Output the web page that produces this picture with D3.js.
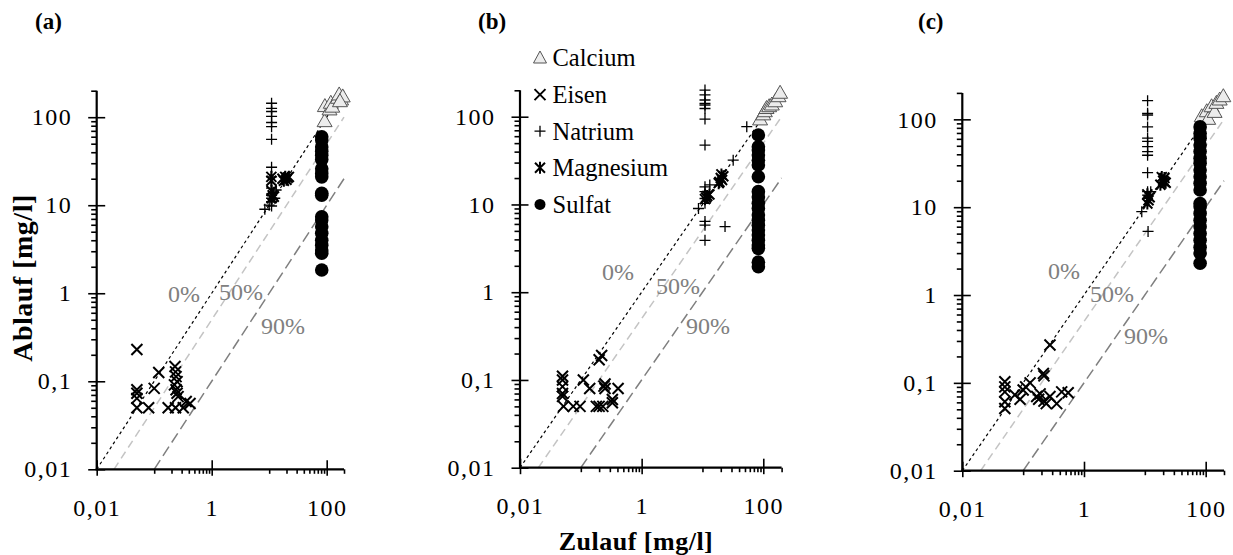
<!DOCTYPE html>
<html>
<head>
<meta charset="utf-8">
<script src="https://cdn.jsdelivr.net/npm/d3@7"></script>
<style>
  html, body { margin: 0; padding: 0; background: #fff; }
  svg { display: block; }
  text { font-family: "Liberation Serif", "Times New Roman", serif; }
</style>
</head>
<body>
<svg id="chart" width="1233" height="555"></svg>
<script>
// ---- Data: Zulauf (inflow) vs. Ablauf (outflow), mg/l -------------------
const panelLabels = ["(a)", "(b)", "(c)"];
const seriesNames = ["Calcium", "Eisen", "Natrium", "Magnesium", "Sulfat"];
const yTickValues = [0.01, 0.1, 1, 10, 100];
const xTickValues = [0.01, 1, 100];
const refLevels = [0, 50, 90];          // removal rate in percent
const refLabels = ["0%", "50%", "90%"];

// Panel (a)
const calciumA = [[92,89],[93,132],[112,121],[118,144],[125,130],[157,164],[165,179],[178,157],[190,170],[170,150]];
const eisenA = [[0.05,0.23],[0.05,0.08],[0.05,0.073],[0.05,0.064],[0.05,0.05],[0.08,0.05],[0.1,0.083],[0.12,0.126],
  [0.175,0.05],[0.23,0.147],[0.235,0.128],[0.24,0.113],[0.25,0.099],[0.225,0.091],[0.24,0.08],[0.25,0.073],
  [0.26,0.067],[0.235,0.05],[0.32,0.05],[0.36,0.059],[0.42,0.056]];
const natriumA = [[11,144],[11,126],[11,116],[11,102],[11,87],[11,78],[11,56],[11,27],[11,21],[11,15.6],[11,13],
  [11,12],[11,11],[11,9.8],[8.4,9],[13.2,14.9],[10,10],[12,14],[12.5,12]];
const magnesiumA = [[10.9,21],[10.9,19],[11,14.5],[11.5,13],[11,12],[12,12.5],[17,20],[19,21],[20,19.5],[21,20.5],[22,21],[18,19]];
const sulfatA = [[82,60],[82,55],[82,46],[82,41],[82,37],[82,33],[82,26],[82,23],[82,21],[82,13.7],[82,13],
  [82,7.4],[82,6.8],[82,5.7],[82,4.8],[82,4.0],[82,3.5],[82,3.1],[82,2.85],[82,1.84]];

// Panel (b)
const calciumB = [[88.5,92],[100,105],[106,114],[113,124],[125,130],[138,136],[157,148],[178,169],[189,185]];
const eisenB = [[0.05,0.11],[0.05,0.1],[0.05,0.084],[0.05,0.07],[0.05,0.065],[0.052,0.05],[0.075,0.05],[0.097,0.05],
  [0.11,0.1],[0.14,0.08],[0.22,0.19],[0.2,0.17],[0.18,0.05],[0.2,0.05],[0.23,0.05],[0.25,0.09],[0.25,0.08],
  [0.33,0.06],[0.33,0.055],[0.41,0.08],[0.24,0.085]];
const natriumB = [[11,201],[11,177],[11,155],[11,142],[11,136],[11,124],[11,94],[11,47.5],[13.2,16.7],[11,15.9],
  [11,14],[11,11.7],[11,10.3],[11,6.4],[11,5.8],[11,3.9],[23.5,5.6],[53.5,77],[32,32],[8.6,9],[12,12]];
const magnesiumB = [[11,11.5],[12,12.5],[11.5,12],[13,13],[18.5,17.5],[20,20],[21,19],[22,21],[19,18],[20.5,22]];
const sulfatB = [[83,61.8],[83,45.5],[83,41.7],[83,36.6],[83,32],[83,28.2],[83,20.7],[83,14],[83,12.2],[83,10.3],
  [83,9],[83,7.6],[83,6.6],[83,5.8],[83,5.1],[83,4.5],[83,3.9],[83,3.45],[83,3.16],[83,2.2],[83,1.95]];

// Panel (c)
const calciumC = [[86,107],[104,122],[110,100],[125,139],[140,120],[150,152],[170,166],[195,181]];
const eisenC = [[0.05,0.103],[0.05,0.09],[0.05,0.079],[0.05,0.061],[0.05,0.051],[0.073,0.073],[0.089,0.065],
  [0.1,0.083],[0.13,0.1],[0.11,0.09],[0.167,0.07],[0.215,0.128],[0.22,0.12],[0.276,0.27],[0.22,0.062],
  [0.24,0.058],[0.276,0.07],[0.356,0.058],[0.43,0.079],[0.55,0.077],[0.19,0.075],[0.18,0.065]];
const natriumC = [[11.1,163],[11.1,117],[11.1,112],[11.1,82],[11.1,61],[11.1,56],[11.1,49],[11.1,43],[11.1,39],
  [11.1,24.7],[11.1,15],[11.1,13.7],[11.1,12.6],[12.5,15],[8.9,8.9],[11.3,5.3]];
const magnesiumC = [[11,11],[11.5,12],[12,13],[11,14],[18,18],[20,20],[21,21.5],[22,19],[19,22],[21,19.5]];
const sulfatC = [[81,82],[81,69],[81,61],[81,51],[81,43],[81,36],[81,31.6],[81,26.5],[81,22.2],[81,18.7],[81,15.7],
  [81,11],[81,10.1],[81,8.5],[81,7.1],[81,6],[81,5],[81,4.2],[81,3.5],[81,3],[81,2.3]];

// ---- Layout ----------------------------------------------------------------
const domain = [0.01, 200];
const layouts = [
  { x: [96.7, 344.0],  y: [469.3, 90.7], label: [35, 29] },
  { x: [520.0, 781.6], y: [467.7, 90.3], label: [478, 29] },
  { x: [962.3, 1224.0], y: [470.7, 92.9], label: [918, 29] }
];
const panelData = [
  [calciumA, eisenA, natriumA, magnesiumA, sulfatA],
  [calciumB, eisenB, natriumB, magnesiumB, sulfatB],
  [calciumC, eisenC, natriumC, magnesiumC, sulfatC]
];
const refPos = [
  [[184, 302], [241, 300], [283, 334]],
  [[618, 280], [678, 294], [708, 334]],
  [[1064, 279], [1112, 302], [1146, 344]]
];
const refStyle = [
  { stroke: "#000000", width: 1.2, dash: "3,3" },
  { stroke: "#c4c4c4", width: 1.5, dash: "8,5" },
  { stroke: "#7f7f7f", width: 1.5, dash: "11,5" }
];

const svg = d3.select("#chart");
const fmt = d => String(d).replace(".", ",");
const serif = "'Liberation Serif', 'Times New Roman', serif";

// Marker painters
function drawMarker(g, kind, cx, cy) {
  if (kind === 0) { // Calcium: triangle
    g.append("path")
      .attr("d", `M${cx},${cy - 8} L${cx + 7.5},${cy + 5} L${cx - 7.5},${cy + 5} Z`)
      .attr("fill", "#ececec").attr("stroke", "#555").attr("stroke-width", 1);
  } else if (kind === 1) { // Eisen: x
    const h = 5.5;
    g.append("path")
      .attr("d", `M${cx - h},${cy - h} L${cx + h},${cy + h} M${cx - h},${cy + h} L${cx + h},${cy - h}`)
      .attr("stroke", "#000").attr("stroke-width", 2).attr("fill", "none");
  } else if (kind === 2) { // Natrium: +
    const h = 5.5;
    g.append("path")
      .attr("d", `M${cx - h},${cy} L${cx + h},${cy} M${cx},${cy - h} L${cx},${cy + h}`)
      .attr("stroke", "#000").attr("stroke-width", 1.3).attr("fill", "none");
  } else if (kind === 3) { // Magnesium: star (x with vertical bar)
    const h = 5;
    g.append("path")
      .attr("d", `M${cx - h},${cy - h} L${cx + h},${cy + h} M${cx - h},${cy + h} L${cx + h},${cy - h} M${cx},${cy - h - 1} L${cx},${cy + h + 1}`)
      .attr("stroke", "#000").attr("stroke-width", 2).attr("fill", "none");
  } else { // Sulfat: dot
    g.append("circle").attr("cx", cx).attr("cy", cy).attr("r", 6.8).attr("fill", "#000");
  }
}

layouts.forEach((lay, pi) => {
  const x = d3.scaleLog().domain(domain).range(lay.x);
  const y = d3.scaleLog().domain(domain).range(lay.y);
  const g = svg.append("g");

  // Panel label
  svg.append("text").attr("x", lay.label[0]).attr("y", lay.label[1])
    .style("font-family", serif).style("font-weight", "bold")
    .style("font-size", "23px").text(panelLabels[pi]);

  // Reference lines: Ablauf = (1 - r) * Zulauf
  refLevels.forEach((r, ri) => {
    const f = 1 - r / 100;
    const x0 = domain[0] / f;
    const pts = [[x0, domain[0]], [domain[1], domain[1] * f]];
    g.append("line")
      .attr("x1", x(pts[0][0])).attr("y1", y(pts[0][1]))
      .attr("x2", x(pts[1][0])).attr("y2", y(pts[1][1]))
      .attr("stroke", refStyle[ri].stroke).attr("stroke-width", refStyle[ri].width)
      .attr("stroke-dasharray", refStyle[ri].dash);
    g.append("text").attr("x", refPos[pi][ri][0]).attr("y", refPos[pi][ri][1])
      .attr("text-anchor", "middle").attr("fill", "#808080")
      .style("font-family", serif).style("font-size", "24px").text(refLabels[ri]);
  });

  // Y axis: major ticks across the line, minor ticks outside
  const yMinor = [];
  [0.01, 0.1, 1, 10, 100].forEach(b => { for (let k = 2; k <= 9; k++) { const v = b * k; if (v <= 200.0001) yMinor.push(v); } });
  const yAxisMinor = g.append("g").attr("transform", `translate(${lay.x[0]},0)`)
    .call(d3.axisLeft(y).tickValues(yMinor).tickSize(5.5).tickFormat(""));
  const yAxisMajor = g.append("g").attr("transform", `translate(${lay.x[0]},0)`)
    .call(d3.axisLeft(y).tickValues(yTickValues).tickSize(8.5).tickPadding(16).tickFormat(fmt));
  const yAxisIn = g.append("g").attr("transform", `translate(${lay.x[0]},0)`)
    .call(d3.axisRight(y).tickValues(yTickValues).tickSize(8.5).tickFormat(""));

  // X axis
  const xMinor = [0.1, 0.2, 0.3, 0.4, 0.5, 0.6, 0.7, 0.8, 0.9, 10, 20, 30, 40, 50, 60, 70, 80, 90, 200];
  const xAxisMinor = g.append("g").attr("transform", `translate(0,${lay.y[0]})`)
    .call(d3.axisBottom(x).tickValues(xMinor).tickSize(4.5).tickFormat(""));
  const xAxisMajor = g.append("g").attr("transform", `translate(0,${lay.y[0]})`)
    .call(d3.axisBottom(x).tickValues(xTickValues).tickSize(6.5).tickPadding(23).tickFormat(fmt));
  const xAxisIn = g.append("g").attr("transform", `translate(0,${lay.y[0]})`)
    .call(d3.axisTop(x).tickValues(xTickValues).tickSize(9).tickFormat(""));

  [yAxisMinor, yAxisMajor, yAxisIn, xAxisMinor, xAxisMajor, xAxisIn].forEach(a => {
    a.select(".domain").remove();
    a.selectAll(".tick line").attr("stroke", "#000").attr("stroke-width", 1.6);
    a.selectAll("text").style("font-family", serif).style("font-size", "24px")
      .style("letter-spacing", "1.5px").attr("fill", "#000");
  });

  // Axis lines
  g.append("line").attr("x1", lay.x[0]).attr("x2", lay.x[0]).attr("y1", lay.y[0] + 1).attr("y2", lay.y[1])
    .attr("stroke", "#000").attr("stroke-width", 2.2);
  g.append("line").attr("x1", lay.x[0] - 1).attr("x2", lay.x[1]).attr("y1", lay.y[0]).attr("y2", lay.y[0])
    .attr("stroke", "#000").attr("stroke-width", 2.2);

  // Points
  const pg = g.append("g");
  panelData[pi].forEach((series, si) => {
    series.forEach(d => drawMarker(pg, si, x(d[0]), y(d[1])));
  });
});

// Legend (inside panel b)
const legend = svg.append("g");
seriesNames.forEach((name, i) => {
  const cy = 58 + i * 36.6;
  const lg = legend.append("g");
  if (i === 0) {
    lg.append("path").attr("d", `M540,${cy - 7} L546.5,${cy + 5} L533.5,${cy + 5} Z`)
      .attr("fill", "#ececec").attr("stroke", "#555").attr("stroke-width", 1);
  } else if (i === 4) {
    lg.append("circle").attr("cx", 540).attr("cy", cy).attr("r", 5.5).attr("fill", "#000");
  } else {
    drawMarker(lg, i, 540, cy);
  }
  legend.append("text").attr("x", 552.5).attr("y", cy).attr("dy", "0.34em")
    .style("font-family", serif).style("font-size", "24.5px").text(name);
});

// Axis titles
svg.append("text").attr("x", 636).attr("y", 550).attr("text-anchor", "middle")
  .style("font-family", serif).style("font-weight", "bold").style("font-size", "26px")
  .style("letter-spacing", "0.5px").text("Zulauf [mg/l]");
svg.append("text").attr("transform", "translate(32,278) rotate(-90)").attr("text-anchor", "middle")
  .style("font-family", serif).style("font-weight", "bold").style("font-size", "28px")
  .style("letter-spacing", "0.5px").text("Ablauf [mg/l]");
</script>
</body>
</html>
